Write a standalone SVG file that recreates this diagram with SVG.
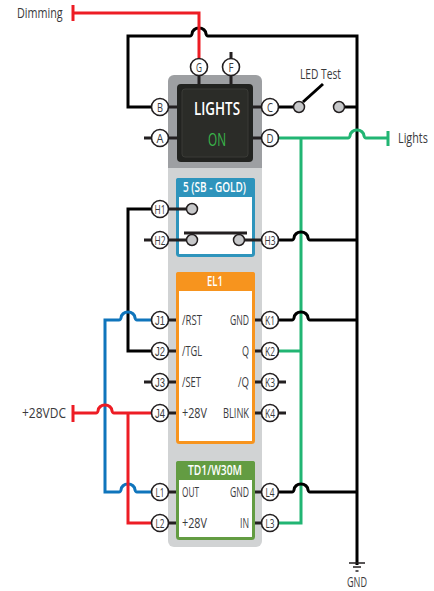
<svg xmlns="http://www.w3.org/2000/svg" width="434" height="591" viewBox="0 0 434 591">
<style>
text{font-family:"Open Sans","Noto Sans","Liberation Sans",sans-serif;fill:#3a3a3c}
.w{fill:none;stroke-width:3;stroke-linejoin:miter}
.k{stroke:#000}.r{stroke:#ed1c24}.b{stroke:#0f75bc}.g{stroke:#21b573}
.s{stroke:#231f20;stroke-width:3;fill:none}
.t{stroke:#231f20;stroke-width:1.5;fill:none}
.p{fill:#fff;stroke:#231f20;stroke-width:1.6}
.pt{font-size:13px;text-anchor:middle}
.pj{font-family:"Liberation Sans",sans-serif}
.c{fill:#c7c8ca;stroke:#231f20;stroke-width:1.5}
.l{font-size:14px}
.n{font-size:15px}
.h{font-size:14px;font-weight:600;fill:#fff}
</style>
<defs><g id="pin"><circle class="p" r="8.5"/></g></defs>

<g id="panel">
<path d="M168 168V81a6 6 0 0 1 6-6h82a6 6 0 0 1 6 6v87z" fill="#9d9fa2"/>
<path d="M168 168h94v373a6 6 0 0 1-6 6h-82a6 6 0 0 1-6-6z" fill="#d1d3d4"/>
</g>

<g id="connectors">
<path class="w k" d="M160 107H128V36H190Q191.500 36 192 34A7 6 0 0 1 206 34Q206.500 36 208 36H357V565"/>
<path class="w r" d="M73 13H199V60"/>
<path class="w r" d="M73 5V21" />
<path class="w k" d="M339 107H357"/>
<path class="w k" d="M270 107H299"/>
<path class="w k" d="M303 102L323 84"/>
<path class="w g" d="M270 138H348Q349.500 138 350 136A7 6 0 0 1 364 136Q364.500 138 366 138H388M388 131V146"/>
<path class="w g" d="M301 138V523H270"/>
<path class="w g" d="M270 351H301"/>
<path class="w k" d="M270 240H292Q293.500 240 294 238A7 6 0 0 1 308 238Q308.500 240 310 240H357"/>
<path class="w k" d="M270 320H292Q293.500 320 294 318A7 6 0 0 1 308 318Q308.500 320 310 320H357"/>
<path class="w k" d="M270 492H292Q293.500 492 294 490A7 6 0 0 1 308 490Q308.500 492 310 492H357"/>
<path class="w k" d="M160 209H128V351H160"/>
<path class="w b" d="M160 320H137Q135.500 320 135 318A7 6 0 0 0 121 318Q120.500 320 119 320H105V492H119Q120.500 492 121 490A7 6 0 0 1 135 490Q135.500 492 137 492H160"/>
<path class="w r" d="M160 413H114Q112.500 413 112 411A7 6 0 0 0 98 411Q97.500 413 96 413H73M73 405V422"/>
<path class="w r" d="M128 413V523H160"/>
<path class="s" d="M144 138H160M144 240H160M144 382H160M270 382H286M270 413H286"/>
<path class="t" d="M349 563H365M353 567H361M355.500 571H358.500"/>
</g>

<g id="switch-led-test">
<circle class="c" cx="299" cy="107" r="5.500"/>
<circle class="c" cx="339" cy="107" r="5.500"/>
<text class="l" x="300" y="79" textLength="41" lengthAdjust="spacingAndGlyphs">LED Test</text>
</g>

<g id="lights">
<path class="s" d="M168 107H177M168 138H177M253 107H262M253 138H262M199 67V84M231 52V84"/>
<rect x="177" y="84" width="76" height="78" rx="4" fill="#222320"/>
<rect x="182" y="89" width="66" height="68" rx="3" fill="#2b2c28" stroke="#3a3b36"/>
<text x="194" y="115" textLength="46" lengthAdjust="spacingAndGlyphs" style="fill:#fff;font-weight:600;font-size:18px">LIGHTS</text>
<text x="208" y="146" textLength="18" lengthAdjust="spacingAndGlyphs" style="fill:#39b54a;font-size:18px">ON</text>
</g>

<g id="sb-gold">
<rect x="177.500" y="179.500" width="76" height="76" rx="2" fill="#fff" stroke="#2e94bc" stroke-width="3"/>
<path d="M176 197V180a2 2 0 0 1 2-2h75a2 2 0 0 1 2 2v17z" fill="#2e94bc"/>
<text class="h" x="183" y="192" textLength="63" lengthAdjust="spacingAndGlyphs">5 (SB - GOLD)</text>
<path class="s" d="M160 209H187M160 240H187M244 240H262"/>
<circle class="c" cx="192" cy="209" r="5.500"/>
<circle class="c" cx="192" cy="240" r="5.500"/>
<circle class="c" cx="239" cy="240" r="5.500"/>
<path class="s" d="M184 233H247"/>
</g>

<g id="el1">
<path class="s" d="M168 320H177M168 351H177M168 382H177M168 413H177M253 320H262M253 351H262M253 382H262M253 413H262"/>
<rect x="177.500" y="273.500" width="76" height="169" rx="2" fill="#fff" stroke="#f7941e" stroke-width="3"/>
<path d="M176 291V274a2 2 0 0 1 2-2h75a2 2 0 0 1 2 2v17z" fill="#f7941e"/>
<text class="h" x="207" y="286" textLength="16" lengthAdjust="spacingAndGlyphs">EL1</text>
<text class="l" x="182" y="325" textLength="20" lengthAdjust="spacingAndGlyphs">/RST</text>
<text class="l" x="182" y="356" textLength="20" lengthAdjust="spacingAndGlyphs">/TGL</text>
<text class="l" x="182" y="387" textLength="19" lengthAdjust="spacingAndGlyphs">/SET</text>
<text class="l" x="182" y="418" textLength="25" lengthAdjust="spacingAndGlyphs">+28V</text>
<text class="l" x="230" y="325" textLength="19" lengthAdjust="spacingAndGlyphs">GND</text>
<text class="l" x="242" y="356" textLength="7" lengthAdjust="spacingAndGlyphs">Q</text>
<text class="l" x="238" y="387" textLength="11" lengthAdjust="spacingAndGlyphs">/Q</text>
<text class="l" x="223" y="418" textLength="26" lengthAdjust="spacingAndGlyphs">BLINK</text>
</g>

<g id="td1-w30m">
<path class="s" d="M168 492H177M168 523H177M253 492H262M253 523H262"/>
<rect x="177.500" y="462.500" width="76" height="76" rx="2" fill="#fff" stroke="#639c42" stroke-width="3"/>
<path d="M176 480V463a2 2 0 0 1 2-2h75a2 2 0 0 1 2 2v17z" fill="#639c42"/>
<text class="h" x="188" y="475" textLength="54" lengthAdjust="spacingAndGlyphs">TD1/W30M</text>
<text class="l" x="182" y="497" textLength="17" lengthAdjust="spacingAndGlyphs">OUT</text>
<text class="l" x="182" y="528" textLength="25" lengthAdjust="spacingAndGlyphs">+28V</text>
<text class="l" x="230" y="497" textLength="19" lengthAdjust="spacingAndGlyphs">GND</text>
<text class="l" x="240" y="528" textLength="9" lengthAdjust="spacingAndGlyphs">IN</text>
</g>

<g id="pins">
<g id="pin-G"><use href="#pin" x="199" y="67"/><text class="pt" x="199" y="72" textLength="6" lengthAdjust="spacingAndGlyphs">G</text></g>
<g id="pin-F"><use href="#pin" x="231" y="67"/><text class="pt" x="231" y="72" textLength="5" lengthAdjust="spacingAndGlyphs">F</text></g>
<g id="pin-B"><use href="#pin" x="160" y="107"/><text class="pt" x="160" y="112" textLength="6" lengthAdjust="spacingAndGlyphs">B</text></g>
<g id="pin-A"><use href="#pin" x="160" y="138"/><text class="pt" x="160" y="143" textLength="7" lengthAdjust="spacingAndGlyphs">A</text></g>
<g id="pin-C"><use href="#pin" x="270" y="107"/><text class="pt" x="270" y="112" textLength="6" lengthAdjust="spacingAndGlyphs">C</text></g>
<g id="pin-D"><use href="#pin" x="270" y="138"/><text class="pt" x="270" y="143" textLength="7" lengthAdjust="spacingAndGlyphs">D</text></g>
<g id="pin-H1"><use href="#pin" x="160" y="209"/><text class="pt" x="160" y="214" textLength="11" lengthAdjust="spacingAndGlyphs">H1</text></g>
<g id="pin-H2"><use href="#pin" x="160" y="240"/><text class="pt" x="160" y="245" textLength="11" lengthAdjust="spacingAndGlyphs">H2</text></g>
<g id="pin-H3"><use href="#pin" x="270" y="240"/><text class="pt" x="270" y="245" textLength="11" lengthAdjust="spacingAndGlyphs">H3</text></g>
<g id="pin-J1"><use href="#pin" x="160" y="320"/><text class="pt pj" x="160" y="325" textLength="10" lengthAdjust="spacingAndGlyphs">J1</text></g>
<g id="pin-J2"><use href="#pin" x="160" y="351"/><text class="pt pj" x="160" y="356" textLength="10" lengthAdjust="spacingAndGlyphs">J2</text></g>
<g id="pin-J3"><use href="#pin" x="160" y="382"/><text class="pt pj" x="160" y="387" textLength="10" lengthAdjust="spacingAndGlyphs">J3</text></g>
<g id="pin-J4"><use href="#pin" x="160" y="413"/><text class="pt pj" x="160" y="418" textLength="10" lengthAdjust="spacingAndGlyphs">J4</text></g>
<g id="pin-K1"><use href="#pin" x="270" y="320"/><text class="pt" x="270" y="325" textLength="10" lengthAdjust="spacingAndGlyphs">K1</text></g>
<g id="pin-K2"><use href="#pin" x="270" y="351"/><text class="pt" x="270" y="356" textLength="10" lengthAdjust="spacingAndGlyphs">K2</text></g>
<g id="pin-K3"><use href="#pin" x="270" y="382"/><text class="pt" x="270" y="387" textLength="10" lengthAdjust="spacingAndGlyphs">K3</text></g>
<g id="pin-K4"><use href="#pin" x="270" y="413"/><text class="pt" x="270" y="418" textLength="10" lengthAdjust="spacingAndGlyphs">K4</text></g>
<g id="pin-L1"><use href="#pin" x="160" y="492"/><text class="pt" x="160" y="497" textLength="9" lengthAdjust="spacingAndGlyphs">L1</text></g>
<g id="pin-L2"><use href="#pin" x="160" y="523"/><text class="pt" x="160" y="528" textLength="9" lengthAdjust="spacingAndGlyphs">L2</text></g>
<g id="pin-L4"><use href="#pin" x="270" y="492"/><text class="pt" x="270" y="497" textLength="9" lengthAdjust="spacingAndGlyphs">L4</text></g>
<g id="pin-L3"><use href="#pin" x="270" y="523"/><text class="pt" x="270" y="528" textLength="9" lengthAdjust="spacingAndGlyphs">L3</text></g>
</g>

<g id="labels">
<text class="n" transform="translate(17 18) scale(.72 1)">Dimming</text>
<text class="n" transform="translate(398 143) scale(.72 1)">Lights</text>
<text class="n" transform="translate(22 418) scale(.8 1)">+28VDC</text>
<text class="l" x="347" y="587" textLength="20" lengthAdjust="spacingAndGlyphs">GND</text>
</g>
</svg>
